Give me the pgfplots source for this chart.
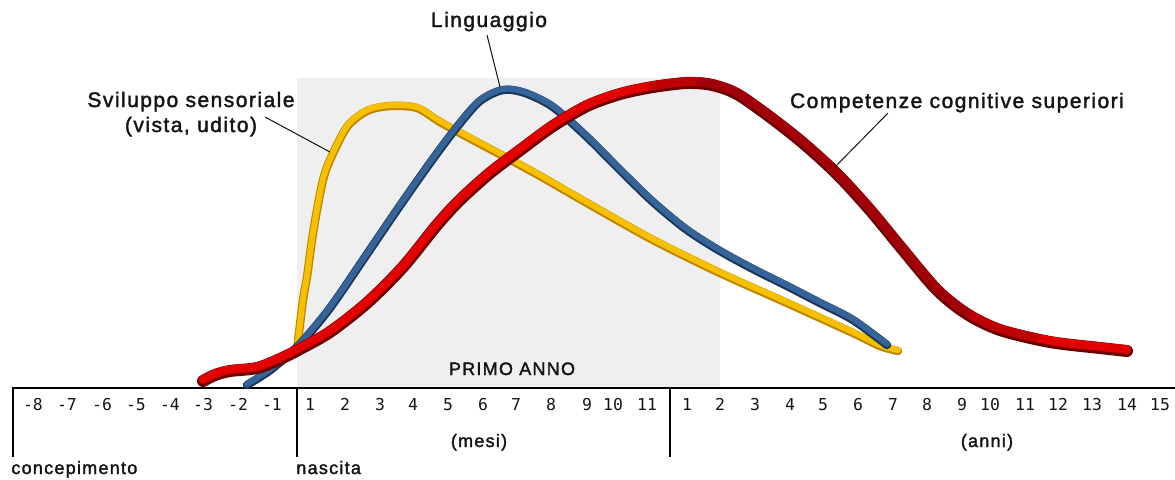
\documentclass[border=0pt]{standalone}
\usepackage{pgfplots}
\pgfplotsset{compat=1.18}
\usepackage{fontspec}
\setmainfont{Liberation Sans}
\newfontfamily\labfont{Liberation Sans}[LetterSpace=7,FakeBold=1.8]
\newfontfamily\tickfont{DejaVu Sans Mono}
\definecolor{redA}{HTML}{E20000}
\definecolor{redM}{HTML}{BE0004}
\definecolor{redD}{HTML}{A00008}
\definecolor{redS}{HTML}{6A0000}
\definecolor{blueA}{HTML}{34649A}
\definecolor{blueS}{HTML}{1C3657}
\definecolor{yelA}{HTML}{F6C000}
\definecolor{yelS}{HTML}{BF8600}
\definecolor{bggray}{HTML}{EFEFEF}
\definecolor{txt}{HTML}{141414}
\tikzset{tk/.style={anchor=base, inner sep=0pt, font=\tickfont\fontsize{8.2pt}{9pt}\selectfont, text=txt}}

\pgfplotstableread{
x y
203 381
215 375
230 371
257 368
280 359
300 349
330 332
367 303
403 267
437 225
460 200
490 173
523 148
553 126
587 106
620 94
653 87
687 83
712 85
737 94
770 117
803 143
837 174
870 210
903 250
937 290
967 314
1000 330
1050 342
1100 348
1127 351
}\redtab

\pgfplotstableread{
x y
653 87
687 83
712 85
737 94
770 117
803 143
837 174
870 210
903 250
937 290
967 314
1000 330
1035 339
}\redmid

\pgfplotstableread{
x y
700 83
712 85
737 94
770 117
803 143
837 174
870 210
903 250
937 290
967 314
}\reddark

\pgfplotstableread{
x y
247 385
260 377
273 368
300 344
330 308
363 260
397 210
430 163
457 127
480 101
503 90
525 93
553 107
587 137
620 170
653 202
687 230
720 251
753 269
787 286
820 303
853 320
887 345
}\bluetab

\pgfplotstableread{
x y
297 350
303 300
307 277
312 240
317 210
323 180
330 160
347 127
367 111
390 106
417 108
440 122
473 140
507 158
540 176
587 203
653 240
720 273
787 303
853 333
880 346
898 351
}\yeltab

\begin{document}
\begin{tikzpicture}
\begin{axis}[scale only axis, width=587.5pt, height=239.5pt,
  xmin=0, xmax=1175, ymin=0, ymax=479, y dir=reverse,
  hide axis, clip=false]
% grey band (first year)
\addplot[fill=bggray, draw=none] coordinates {(297,78) (720,78) (720,388) (297,388)} -- cycle;
% time axis
\draw[black, line width=1pt] (axis cs:12,388) -- (axis cs:1175,388);
\draw[black, line width=0.6pt] (axis cs:13,388) -- (axis cs:13,457);
\draw[black, line width=0.6pt] (axis cs:297,388) -- (axis cs:297,457);
\draw[black, line width=0.6pt] (axis cs:670,388) -- (axis cs:670,457);
% tick labels
\foreach \xx/\lab in {33/-8,67/-7,102/-6,136/-5,170/-4,203/-3,238/-2,272/-1,
  310/1,345/2,380/3,413/4,448/5,483/6,516/7,551/8,587/9,613/10,647/11,
  687/1,720/2,755/3,790/4,823/5,858/6,893/7,927/8,962/9,990/10,1025/11,1058/12,1092/13,1127/14,1160/15}
  {\edef\tmp{\noexpand\node[tk] at (axis cs:\xx,410) {\lab};}\tmp}
% axis texts
\node[anchor=base west, inner sep=0pt, font=\labfont\fontsize{9pt}{10pt}\selectfont, text=txt] at (axis cs:11,474) {concepimento};
\node[anchor=base west, inner sep=0pt, font=\labfont\fontsize{9pt}{10pt}\selectfont, text=txt] at (axis cs:296,474) {nascita};
\node[anchor=base, inner sep=0pt, font=\labfont\fontsize{9pt}{10pt}\selectfont, text=txt] at (axis cs:479,447) {(mesi)};
\node[anchor=base, inner sep=0pt, font=\labfont\fontsize{9pt}{10pt}\selectfont, text=txt] at (axis cs:987,447) {(anni)};
\node[anchor=base, inner sep=0pt, font=\labfont\fontsize{9pt}{10pt}\selectfont, text=txt] at (axis cs:512,375) {PRIMO ANNO};
% curves
\addplot[yelS, line width=4.2pt, line cap=round, smooth] table {\yeltab};
\addplot[yelA, line width=3pt, line cap=round, smooth, yshift=0.5pt] table {\yeltab};
\addplot[blueS, line width=4.2pt, line cap=round, smooth] table {\bluetab};
\addplot[blueA, line width=3pt, line cap=round, smooth, yshift=0.5pt] table {\bluetab};
\addplot[redS, line width=6pt, line cap=round, smooth] table {\redtab};
\addplot[redA, line width=4.3pt, line cap=round, smooth, yshift=0.7pt] table {\redtab};
\addplot[redM, line width=4.3pt, line cap=round, smooth, yshift=0.7pt] table {\redmid};
\addplot[redD, line width=4.3pt, line cap=round, smooth, yshift=0.7pt] table {\reddark};
% labels and leader lines
\draw[txt, line width=0.5pt] (axis cs:487,35) -- (axis cs:500,87);
\draw[txt, line width=0.5pt] (axis cs:265,117) -- (axis cs:330,152);
\draw[txt, line width=0.5pt] (axis cs:888,113) -- (axis cs:835,167);
\node[anchor=base, inner sep=0pt, font=\labfont\fontsize{10.5pt}{12pt}\selectfont, text=txt] at (axis cs:489,27) {Linguaggio};
\node[anchor=base, inner sep=0pt, font=\labfont\fontsize{10.5pt}{12pt}\selectfont, text=txt] at (axis cs:191,107) {Sviluppo sensoriale};
\node[anchor=base, inner sep=0pt, font=\labfont\fontsize{10.5pt}{12pt}\selectfont, text=txt] at (axis cs:191,132) {(vista, udito)};
\node[anchor=base, inner sep=0pt, font=\labfont\fontsize{10.5pt}{12pt}\selectfont, text=txt] at (axis cs:957,108) {Competenze cognitive superiori};
\end{axis}
\pgfresetboundingbox
\useasboundingbox (current axis.south west) rectangle (current axis.north east);
\end{tikzpicture}
\end{document}
